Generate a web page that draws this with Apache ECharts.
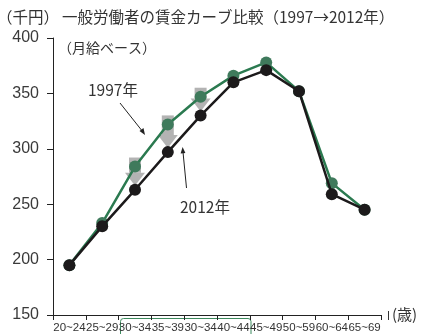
<!DOCTYPE html>
<html>
<head>
<meta charset="utf-8">
<script src="https://cdn.jsdelivr.net/npm/echarts@6/dist/echarts.min.js"></script>
<style>
  html, body { margin: 0; padding: 0; background: #fff; }
  #chart { width: 421px; height: 334px; }
</style>
</head>
<body>
<div id="chart"></div>
<script>
// Age brackets as printed on the axis
var categories = ['20~24', '25~29', '30~34', '35~39', '30~34', '40~44', '45~49', '50~59', '60~64', '65~69'];
// Monthly wage, thousand yen
var wage1997 = [195, 233, 284, 322, 347, 366, 378, 352, 269, 245];
var wage2012 = [195, 230, 263, 297, 330, 360, 371, 352, 259, 245];
// Brackets where the drop is highlighted with an arrow
var dropIndex = [2, 3, 4];
var yTicks = { min: 150, max: 400, step: 50 };

var FONT = '"Liberation Sans", "Noto Sans CJK JP", sans-serif';
var JP = '"Noto Sans CJK JP", "Liberation Sans", sans-serif';
var GREEN = '#2b7a50';
var GREEN_DOT = '#3f7a5c';
var BLACK = '#1c1a1b';
var TEXT = '#333';

var dropData = dropIndex.map(function (i) { return [i, wage1997[i], wage2012[i]]; });

var chart = echarts.init(document.getElementById('chart'), null, { renderer: 'canvas' });

chart.setOption({
  animation: false,
  backgroundColor: '#fff',
  grid: { left: 53, right: 40, top: 38, bottom: 19, containLabel: false },
  xAxis: {
    type: 'category',
    data: categories,
    boundaryGap: true,
    axisLine: { show: true, lineStyle: { color: '#222', width: 1 } },
    axisTick: { show: true, inside: false, length: 5, alignWithLabel: false, lineStyle: { color: '#222' } },
    axisLabel: { color: TEXT, fontFamily: FONT, fontSize: 11.5, margin: 7, interval: 0, hideOverlap: false }
  },
  yAxis: {
    type: 'value',
    min: yTicks.min,
    max: yTicks.max,
    interval: yTicks.step,
    axisLine: { show: true, lineStyle: { color: '#222', width: 1 } },
    axisTick: { show: true, length: 6, lineStyle: { color: '#222' } },
    axisLabel: { color: '#3a3a3a', fontFamily: FONT, fontSize: 16, margin: 14 },
    splitLine: { show: false }
  },
  series: [
    {
      type: 'custom',
      name: 'drop',
      z: 1,
      data: dropData,
      encode: { x: 0, y: [1, 2] },
      renderItem: function (params, api) {
        var top = api.coord([api.value(0), api.value(1)]);
        var bot = api.coord([api.value(0), api.value(2)]);
        var x = top[0];
        var shaftTop = top[1] - 9;
        var headTop = bot[1] - 17;
        var tip = bot[1] - 4;
        return {
          type: 'group',
          children: [
            { type: 'rect', shape: { x: x - 6, y: shaftTop, width: 12, height: headTop - shaftTop },
              style: { fill: '#b3b3b3' } },
            { type: 'polygon', shape: { points: [[x - 10, headTop], [x + 10, headTop], [x, tip]] },
              style: { fill: '#b3b3b3' } }
          ]
        };
      }
    },
    {
      type: 'line',
      name: '1997年',
      z: 2,
      data: wage1997,
      symbol: 'circle',
      symbolSize: 12,
      lineStyle: { color: GREEN, width: 2.5 },
      itemStyle: { color: GREEN_DOT, borderWidth: 0 }
    },
    {
      type: 'line',
      name: '2012年',
      z: 3,
      data: wage2012,
      symbol: 'circle',
      symbolSize: 12,
      lineStyle: { color: BLACK, width: 2.5 },
      itemStyle: { color: BLACK, borderWidth: 0 }
    }
  ],
  graphic: [
    { type: 'text', left: -3, top: 9, style: { text: '（千円）', font: '15.5px ' + JP, fill: TEXT } },
    { type: 'text', left: 62, top: 9, style: { text: '一般労働者の賃金カーブ比較（1997→2012年）', font: '15.5px ' + JP, fill: TEXT } },
    { type: 'text', left: 58, top: 41, style: { text: '（月給ベース）', font: '14px ' + JP, fill: TEXT } },
    { type: 'text', left: 88, top: 82, style: { text: '1997年', font: '15.5px ' + JP, fill: TEXT } },
    { type: 'text', left: 180, top: 199, style: { text: '2012年', font: '15.5px ' + JP, fill: TEXT } },
    { type: 'line', shape: { x1: 120, y1: 103, x2: 143, y2: 132 }, style: { stroke: '#222', lineWidth: 1 } },
    { type: 'polygon', shape: { points: [[145, 135], [139.5, 131], [143.5, 128]] }, style: { fill: '#222' } },
    { type: 'line', shape: { x1: 186.5, y1: 188, x2: 183, y2: 152 }, style: { stroke: '#222', lineWidth: 1 } },
    { type: 'polygon', shape: { points: [[182.6, 147], [180.6, 153.5], [185.4, 153]] }, style: { fill: '#222' } },
    { type: 'rect', shape: { x: 120.5, y: 318.5, width: 130.5, height: 30, r: 3 }, style: { fill: 'none', stroke: '#3d8a5e', lineWidth: 1 } },
    { type: 'line', shape: { x1: 388.5, y1: 311, x2: 388.5, y2: 320 }, style: { stroke: '#333', lineWidth: 1 } },
    { type: 'text', left: 392, top: 307, style: { text: '(歳)', font: '15px ' + JP, fill: TEXT } }
  ]
});
</script>
</body>
</html>
